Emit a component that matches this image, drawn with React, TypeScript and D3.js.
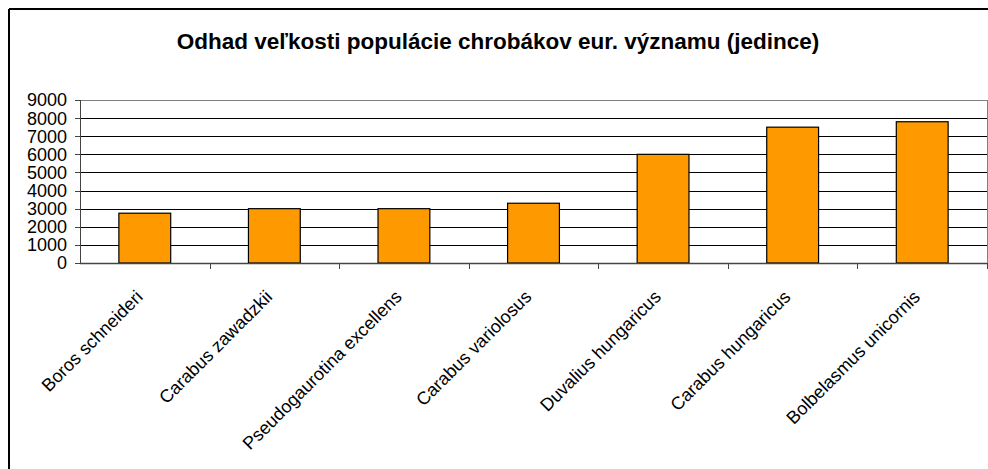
import React from 'react';
import { scaleBand, scaleLinear } from 'd3';

const title = 'Odhad veľkosti populácie chrobákov eur. významu (jedince)';
const species = [
  'Boros schneideri',
  'Carabus zawadzkii',
  'Pseudogaurotina excellens',
  'Carabus variolosus',
  'Duvalius hungaricus',
  'Carabus hungaricus',
  'Bolbelasmus unicornis',
];
const population = [2750, 3000, 3000, 3300, 6000, 7500, 7800];
const yTicks = [0, 1000, 2000, 3000, 4000, 5000, 6000, 7000, 8000, 9000];

const W = 988;
const H = 469;
const plot = { left: 80, right: 987, top: 100, bottom: 263 };
const font = '"Liberation Sans", Arial, sans-serif';

const App = () => {
  const x = scaleBand()
    .domain(species)
    .range([plot.left, plot.right])
    .paddingInner(0.6)
    .paddingOuter(0.3);
  const band = scaleBand().domain(species).range([plot.left, plot.right]);
  const y = scaleLinear().domain([0, 9000]).range([plot.bottom, plot.top]);

  return (
    <svg
      width={W}
      height={H}
      style={{ position: 'absolute', left: 0, top: 0, background: '#fff' }}
      fontFamily={font}
    >
      {/* chart frame, only top/left visible */}
      <line x1={9} y1={9} x2={W} y2={9} stroke="#000" strokeWidth={2} />
      <line x1={9} y1={9} x2={9} y2={H} stroke="#000" strokeWidth={2} />

      <text x={498} y={49} textAnchor="middle" fontSize={22.5} fontWeight="bold">
        {title}
      </text>

      {/* gridlines */}
      {yTicks.slice(1, -1).map(t => (
        <line key={t} x1={plot.left} x2={plot.right} y1={Math.round(y(t)) + 0.5} y2={Math.round(y(t)) + 0.5} stroke="#000" strokeWidth={1} />
      ))}
      <rect
        x={plot.left + 0.5}
        y={plot.top + 0.5}
        width={plot.right - plot.left}
        height={plot.bottom - plot.top}
        fill="none"
        stroke="#808080"
      />

      {/* bars */}
      {species.map((s, i) => (
        <rect
          key={s}
          x={x(s)}
          y={y(population[i])}
          width={x.bandwidth()}
          height={plot.bottom - y(population[i])}
          fill="#FF9900"
          stroke="#000"
          strokeWidth={1.2}
        />
      ))}

      {/* y axis */}
      <line x1={plot.left + 0.5} x2={plot.left + 0.5} y1={plot.top} y2={plot.bottom} stroke="#444" />
      {yTicks.map(t => (
        <g key={t}>
          <line x1={plot.left - 5} x2={plot.left} y1={Math.round(y(t)) + 0.5} y2={Math.round(y(t)) + 0.5} stroke="#444" />
          <text x={67} y={y(t)} dy="0.36em" textAnchor="end" fontSize={18}>
            {t}
          </text>
        </g>
      ))}

      {/* x axis */}
      <line x1={plot.left} x2={plot.right} y1={plot.bottom + 0.5} y2={plot.bottom + 0.5} stroke="#444" strokeWidth={1.5} />
      {species.map(s => (
        <line
          key={s}
          x1={Math.round(band(s)! + band.bandwidth()) + 0.5}
          x2={Math.round(band(s)! + band.bandwidth()) + 0.5}
          y1={plot.bottom}
          y2={plot.bottom + 6}
          stroke="#444"
        />
      ))}
      {species.map(s => {
        const cx = band(s)! + band.bandwidth() / 2 - 1;
        const cy = 298;
        return (
          <text key={s} x={cx} y={cy} textAnchor="end" fontSize={18} transform={`rotate(-45, ${cx}, ${cy})`}>
            {s}
          </text>
        );
      })}
    </svg>
  );
};

export default App;
